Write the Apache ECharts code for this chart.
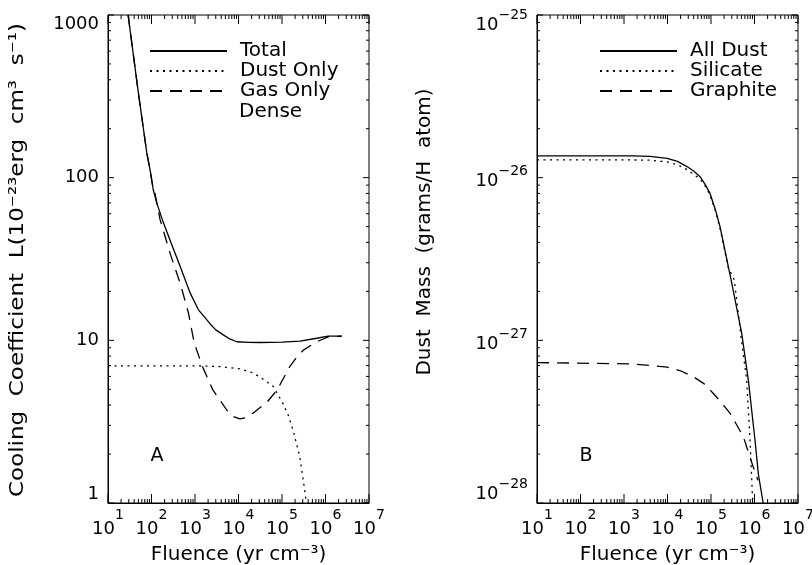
<!DOCTYPE html>
<html><head><meta charset="utf-8">
<script src="https://cdn.jsdelivr.net/npm/echarts@6/dist/echarts.min.js"></script>
<style>html,body{margin:0;padding:0;background:#fff}#c{width:812px;height:565px}</style>
</head><body><div id="c"></div>
<script>
// ---- Panel A: cooling coefficient (1e-23 erg cm^3 s^-1) vs fluence (yr cm^-3) ----
const totalX = [29, 50, 78, 93, 110, 132, 178, 270, 457, 776, 1200, 2190, 3000, 4470, 6300, 9120, 17000, 31000, 100000, 260000, 630000, 1150000, 2400000];
const totalY = [1000, 331, 142, 111, 84, 70, 55, 41, 28.4, 19.5, 15.4, 12.7, 11.6, 10.8, 10.2, 9.8, 9.72, 9.7, 9.75, 9.9, 10.3, 10.6, 10.6];
const dustX = [10, 1000, 3700, 10700, 20000, 31000, 63000, 105000, 140000, 180000, 257000, 340000, 360000];
const dustY = [6.97, 6.97, 6.9, 6.67, 6.35, 5.96, 5.2, 4.1, 3.45, 2.8, 1.92, 1.15, 1.0];
const gasX = [29, 50, 78, 93, 110, 120, 158, 270, 457, 708, 955, 1450, 2570, 5370, 7500, 10700, 15000, 21900, 45700, 77600, 151000, 220000, 310000, 630000, 1150000, 2400000];
const gasY = [1000, 331, 142, 111, 84, 80, 55, 34, 22.4, 14.7, 9.7, 7.0, 4.96, 3.73, 3.4, 3.29, 3.35, 3.58, 4.18, 4.96, 6.9, 7.9, 8.7, 9.8, 10.5, 10.6];

// ---- Panel B: dust mass (grams / H atom) vs fluence ----
const allX = [10, 1600, 4000, 9800, 17000, 28000, 40000, 56000, 75000, 95000, 125000, 161000, 200000, 250000, 290000, 507000, 721000, 1026000, 1230000, 1580000];
const allY = [1.36e-26, 1.36e-26, 1.35e-26, 1.315e-26, 1.26e-26, 1.17e-26, 1.1e-26, 1.014e-26, 9.0e-27, 8.0e-27, 6.4e-27, 5.0e-27, 3.8e-27, 2.84e-27, 2.35e-27, 1.107e-27, 5.71e-28, 2.44e-28, 1.5e-28, 1.0e-28];
const silX = [10, 1600, 4000, 9800, 17000, 28000, 40000, 56000, 75000, 95000, 125000, 161000, 200000, 250000, 343000, 480000, 660000, 790000, 910000];
const silY = [1.285e-26, 1.285e-26, 1.28e-26, 1.25e-26, 1.2e-26, 1.12e-26, 1.05e-26, 9.8e-27, 8.8e-27, 7.8e-27, 6.3e-27, 4.9e-27, 3.7e-27, 2.8e-27, 2.35e-27, 1.1e-27, 5.7e-28, 2.44e-28, 1.0e-28];
const graX = [10, 1600, 9800, 20000, 39000, 70000, 112000, 180000, 275000, 550000, 930000, 1200000];
const graY = [7.3e-28, 7.16e-28, 6.84e-28, 6.5e-28, 5.98e-28, 5.4e-28, 4.73e-28, 4.1e-28, 3.56e-28, 2.57e-28, 1.67e-28, 1.38e-28];

// axis ranges
const xMin = 10, xMax = 1e7;
const yAMin = 1, yAMax = 1000;
const yBMin = 1e-28, yBMax = 1e-25;
// ECharts' log scale rounds tiny powers to 0, so panel B is plotted in units of 1e-28 g/H
const yBUnitExp = -28;
const yBUnit = Math.pow(10, yBUnitExp);

const FONT = 'DejaVu Sans';
const zip = (xs, ys, k) => xs.map((x, i) => [x, ys[i] / (k || 1)]);

// tick positions (axis decoration): majors at decades, minors at 2..9 within each decade
function logTicks(lo, hi) {
  const out = [];
  const e0 = Math.round(Math.log10(lo)), e1 = Math.round(Math.log10(hi));
  for (let e = e0; e <= e1; e++) {
    out.push({v: Math.pow(10, e), major: true});
    if (e < e1) for (let m = 2; m <= 9; m++) out.push({v: m * Math.pow(10, e), major: false});
  }
  return out;
}
const xTicks = logTicks(xMin, xMax);
const yATicks = logTicks(yAMin, yAMax);
const yBTicks = logTicks(yBMin / yBUnit, yBMax / yBUnit);

function tickSeries(gi, kind, ticks, otherVal) {
  return {
    type: 'custom', xAxisIndex: gi, yAxisIndex: gi, silent: true, clip: false, z: 10,
    data: ticks.map(t => kind === 'x' ? [t.v, otherVal, t.major ? 1 : 0] : [otherVal, t.v, t.major ? 1 : 0]),
    renderItem: function (params, api) {
      const cs = params.coordSys;
      const p = api.coord([api.value(0), api.value(1)]);
      const major = api.value(2) === 1;
      const st = {stroke: '#000', lineWidth: 1};
      const ch = [];
      if (kind === 'x') {
        const L = major ? 9 : 4;
        const b = cs.y + cs.height, t = cs.y;
        ch.push({type: 'line', shape: {x1: p[0], y1: b, x2: p[0], y2: b - L}, style: st});
        ch.push({type: 'line', shape: {x1: p[0], y1: t, x2: p[0], y2: t + L}, style: st});
      } else {
        const L = major ? 6 : 3;
        const l = cs.x, r = cs.x + cs.width;
        ch.push({type: 'line', shape: {x1: l, y1: p[1], x2: l + L, y2: p[1]}, style: st});
        ch.push({type: 'line', shape: {x1: r, y1: p[1], x2: r - L, y2: p[1]}, style: st});
      }
      return {type: 'group', children: ch};
    }
  };
}

const tk = (size, lh, va) => ({fontSize: size, fontFamily: FONT, color: '#000', lineHeight: lh, verticalAlign: va});
const expRich = {b: tk(18, 30, 'bottom'), s: tk(14, 12, 'top')};
const yExpRich = {
  g: tk(1, 26, 'middle'), b: tk(18, 18, 'bottom'), s: tk(14, 12, 'top'),
  gt: tk(1, 38, 'middle'), st: tk(14, 12, 'middle')
};
const expText = e => (e < 0 ? '\u2212' + (-e) : String(e));
const expLabel = e => '{b|10}{s|' + expText(e) + '}';

function xAxisCfg(gi) {
  return {
    type: 'log', logBase: 10, gridIndex: gi, min: xMin, max: xMax,
    name: 'Fluence (yr cm\u207B\u00B3)', nameLocation: 'middle', nameGap: 42,
    nameTextStyle: {fontSize: 20, fontFamily: FONT, color: '#000'},
    axisLine: {lineStyle: {color: '#000', width: 1}},
    axisTick: {show: false}, splitLine: {show: false}, minorTick: {show: false},
    axisLabel: {margin: 5, formatter: v => expLabel(Math.round(Math.log10(v))), rich: expRich, color: '#000'}
  };
}

const lineBase = (name, gi, data, type) => ({
  name, type: 'line', xAxisIndex: gi, yAxisIndex: gi, data, showSymbol: false, symbol: 'none',
  lineStyle: {color: '#000', width: 1.3, type}, itemStyle: {color: '#000'}, z: 5
});

const legendText = {fontSize: 20, fontFamily: FONT, color: '#000', padding: [0, 0, 0, 8]};

const chart = echarts.init(document.getElementById('c'), null, {renderer: 'canvas'});
chart.setOption({
  animation: false,
  backgroundColor: '#fff',
  textStyle: {fontFamily: FONT},
  grid: [
    {left: 108, top: 15, width: 261, height: 488, show: true, borderColor: '#000', borderWidth: 1, outerBoundsMode: 'none', containLabel: false},
    {left: 537, top: 15, width: 261, height: 488, show: true, borderColor: '#000', borderWidth: 1, outerBoundsMode: 'none', containLabel: false}
  ],
  xAxis: [xAxisCfg(0), xAxisCfg(1)],
  yAxis: [
    {type: 'log', logBase: 10, gridIndex: 0, min: yAMin, max: yAMax,
     axisLine: {lineStyle: {color: '#000'}}, axisTick: {show: false}, splitLine: {show: false},
     axisLabel: {fontSize: 18, fontFamily: FONT, color: '#000', margin: 9,
       formatter: v => String(Math.round(v)),
       verticalAlignMaxLabel: 'top', verticalAlignMinLabel: 'bottom'}},
    {type: 'log', logBase: 10, gridIndex: 1, min: yBMin / yBUnit, max: yBMax / yBUnit,
     axisLine: {lineStyle: {color: '#000'}}, axisTick: {show: false}, splitLine: {show: false},
     axisLabel: {color: '#000', margin: 9, rich: yExpRich,
       formatter: v => {
         const e = Math.round(Math.log10(v)) + yBUnitExp;
         const isTop = e === Math.round(Math.log10(yBMax));
         return isTop
           ? '{gt|\u200b}{b|10}{st|' + expText(e) + '}'
           : '{g|\u200b}{b|10}{s|' + expText(e) + '}';
       },
       verticalAlignMaxLabel: 'middle', verticalAlignMinLabel: 'bottom'}}
  ],
  legend: [
    {orient: 'vertical', left: 144, top: 36, itemWidth: 77, itemHeight: 14, itemGap: 0,
     data: ['Total', 'Dust Only', 'Gas Only'], selectedMode: false,
     itemStyle: {opacity: 0}, textStyle: legendText},
    {orient: 'vertical', left: 594, top: 36, itemWidth: 77, itemHeight: 14, itemGap: 0,
     data: ['All Dust', 'Silicate', 'Graphite'], selectedMode: false,
     itemStyle: {opacity: 0}, textStyle: legendText}
  ],
  graphic: [
    {type: 'text', x: 239, y: 112, style: {text: 'Dense', fontSize: 20, fontFamily: FONT, fill: '#000', verticalAlign: 'middle'}},
    {type: 'text', x: 18, y: 260, rotation: Math.PI / 2, scaleX: 1.15,
     style: {text: 'Cooling  Coefficient  L(10\u207B\u00B2\u00B3erg  cm\u00B3  s\u207B\u00B9)', fontSize: 20, fontFamily: FONT, fill: '#000', align: 'center', verticalAlign: 'middle'}},
    {type: 'text', x: 425, y: 232, rotation: Math.PI / 2,
     style: {text: 'Dust  Mass  (grams/H  atom)', fontSize: 20, fontFamily: FONT, fill: '#000', align: 'center', verticalAlign: 'middle'}},
    {type: 'text', x: 157, y: 456, style: {text: 'A', fontSize: 19, fontFamily: FONT, fill: '#000', align: 'center', verticalAlign: 'middle'}},
    {type: 'text', x: 586, y: 456, style: {text: 'B', fontSize: 19, fontFamily: FONT, fill: '#000', align: 'center', verticalAlign: 'middle'}}
  ],
  series: [
    lineBase('Total', 0, zip(totalX, totalY), 'solid'),
    lineBase('Dust Only', 0, zip(dustX, dustY), [2, 4.5]),
    lineBase('Gas Only', 0, zip(gasX, gasY), [12, 8]),
    lineBase('All Dust', 1, zip(allX, allY, yBUnit), 'solid'),
    lineBase('Silicate', 1, zip(silX, silY, yBUnit), [2, 4.5]),
    lineBase('Graphite', 1, zip(graX, graY, yBUnit), [12, 8]),
    tickSeries(0, 'x', xTicks, yAMin),
    tickSeries(0, 'y', yATicks, xMin),
    tickSeries(1, 'x', xTicks, yBMin / yBUnit),
    tickSeries(1, 'y', yBTicks, xMin)
  ]
});
</script>
</body></html>
